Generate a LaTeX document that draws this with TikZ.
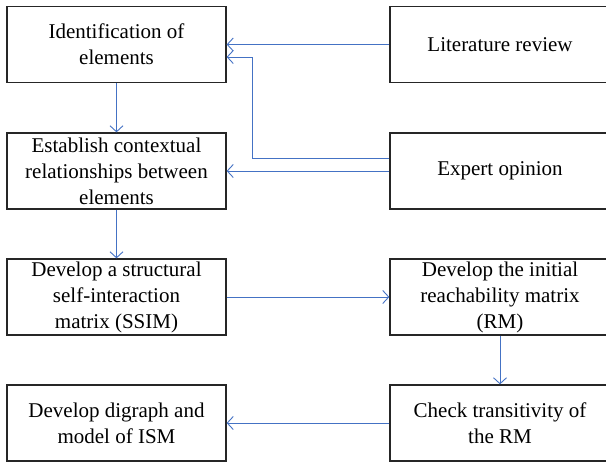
\documentclass[tikz,border=0pt]{standalone}
\usepackage{fontspec}
\setmainfont{Liberation Serif}
\usetikzlibrary{arrows.meta}
\definecolor{arrowblue}{HTML}{4472C4}
\begin{document}
\begin{tikzpicture}[x=1pt,y=-1pt,
  box/.style={draw=black!85,line width=1.3pt,rectangle,minimum width=219pt,minimum height=76pt,
    inner sep=0pt,align=center,font=\fontsize{21}{26}\selectfont},
  rbox/.style={box,minimum width=220pt},
  conn/.style={draw=arrowblue,line width=0.9pt,-{Straight Barb[length=6pt,width=13pt,line width=0.9pt]}}]
\useasboundingbox (0,0) rectangle (606,462);
\node[box] (ident) at (116.5,44.5) {Identification of\\elements};
\node[box] (est) at (116.5,171) {Establish contextual\\relationships between\\elements};
\node[box] (ssim) at (116.5,297) {Develop a structural\\self-interaction\\matrix (SSIM)};
\node[box] (dig) at (116.5,423) {Develop digraph and\\model of ISM};
\node[rbox] (lit) at (500,44.5) {Literature review};
\node[rbox] (exp) at (500,171) {Expert opinion};
\node[rbox] (rm) at (500,297) {Develop the initial\\reachability matrix\\(RM)};
\node[rbox] (chk) at (500,423) {Check transitivity of\\the RM};
\coordinate (bend) at (252,57);
\draw[conn] (lit.west) -- (ident.east);
\draw[conn] ([yshift=13pt]exp.west) -| (bend) -- (bend -| ident.east);
\draw[conn] (exp.west) -- (est.east);
\draw[conn] (ident.south) -- (est.north);
\draw[conn] (est.south) -- (ssim.north);
\draw[conn] (ssim.east) -- (rm.west);
\draw[conn] (rm.south) -- (chk.north);
\draw[conn] (chk.west) -- (dig.east);
\end{tikzpicture}
\end{document}
